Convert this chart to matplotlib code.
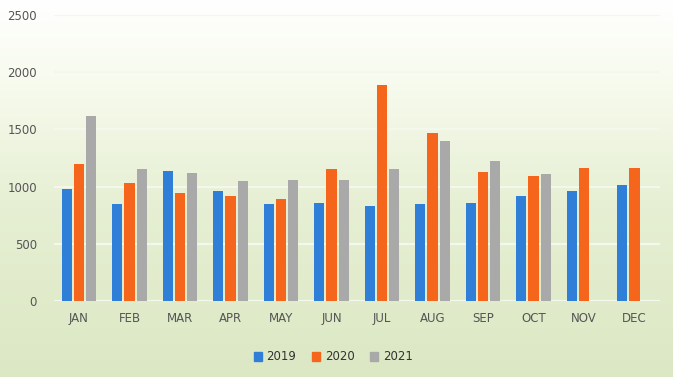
import numpy as np
import matplotlib
matplotlib.use("Agg")
import matplotlib.pyplot as plt
from matplotlib.colors import LinearSegmentedColormap
from matplotlib.patches import Patch

months = ["JAN", "FEB", "MAR", "APR", "MAY", "JUN", "JUL", "AUG", "SEP", "OCT", "NOV", "DEC"]
s2019 = [975, 850, 1140, 965, 850, 860, 830, 850, 860, 920, 965, 1015]
s2020 = [1200, 1035, 940, 920, 895, 1150, 1890, 1470, 1125, 1090, 1160, 1160]
s2021 = [1620, 1150, 1115, 1045, 1060, 1060, 1150, 1395, 1225, 1110, np.nan, np.nan]
series = [("2019", s2019, "#2f7fd8"), ("2020", s2020, "#f5661c"), ("2021", s2021, "#a9a9a9")]
yticks = [0, 500, 1000, 1500, 2000, 2500]

fig = plt.figure(figsize=(6.73, 3.77), dpi=100)

# background gradient
bg = fig.add_axes([0, 0, 1, 1], zorder=-10)
grad = np.linspace(0, 1, 256).reshape(-1, 1)
cmap = LinearSegmentedColormap.from_list("bg", [(0, "#dce8c4"), (0.45, "#e6efd3"), (0.8, "#f8fbef"), (1, "#ffffff")])
bg.imshow(grad, aspect="auto", cmap=cmap, origin="lower", extent=[0, 1, 0, 1])
bg.axis("off")

ax = fig.add_axes([53.75 / 673, 1 - 301 / 377, (659.75 - 53.75) / 673, (301 - 15) / 377])
ax.patch.set_alpha(0)
x = np.arange(len(months))
w = 0.2
offs = [-0.24, 0.0, 0.24]
for (name, vals, col), o in zip(series, offs):
    ax.bar(x + o, vals, width=w, color=col, label=name, zorder=3)

ax.set_ylim(0, 2500)
ax.set_xlim(-0.5, len(months) - 0.5)
ax.set_yticks(yticks)
ax.set_xticks(x)
ax.set_xticklabels(months)
ax.tick_params(axis="both", length=0, labelsize=8.5, colors="#555555")
ax.tick_params(axis="y", pad=12)
ax.tick_params(axis="x", pad=8)
ax.grid(axis="y", color="#f4f8ec", linewidth=1.6, zorder=1)
for s in ax.spines.values():
    s.set_visible(False)

handles = [Patch(color=c, label=n) for n, _, c in series]
fig.legend(handles=handles, loc="center", bbox_to_anchor=(0.495, 1 - 357 / 377), ncol=3,
           frameon=False, fontsize=8.5, handlelength=0.7, handleheight=0.7,
           handletextpad=0.4, columnspacing=1.3, labelcolor="#333333")

fig.savefig("out.png", dpi=100)
